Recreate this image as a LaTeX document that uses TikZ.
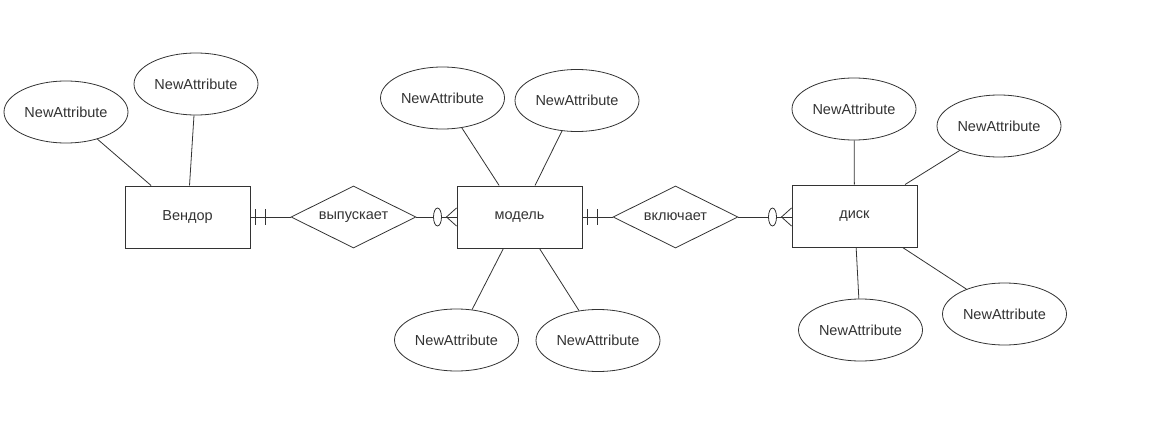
\documentclass[tikz,border=0pt]{standalone}
\usepackage{fontspec}
\setmainfont{Liberation Sans}
\usetikzlibrary{shapes.geometric,calc}
\definecolor{ln}{HTML}{333333}
\definecolor{tx}{HTML}{333333}
\tikzset{
  every node/.style={font=\fontsize{14.5}{17}\selectfont, text=tx},
  ent/.style={draw=ln, line width=1pt, rectangle, minimum width=125pt, minimum height=62pt, inner sep=0pt, fill=white},
  attr/.style={draw=ln, line width=0.8pt, ellipse, minimum width=124pt, minimum height=62pt, inner sep=0pt, fill=white},
  rel/.style={draw=ln, line width=0.8pt, diamond, shape aspect=2, minimum width=125pt, minimum height=62pt, inner sep=0pt, fill=white},
  conn/.style={draw=ln, line width=0.8pt},
}
\begin{document}
\begin{tikzpicture}[x=1pt,y=-1pt]
\useasboundingbox (0,0) rectangle (1163,428);
% entities
\node[ent] (ven) at (187.5,217) {Вендор};
\node[ent] (mod) at (519.5,217) {модель};
\node[ent] (disk) at (854.5,216) {диск};
% relationships
\node[rel] (vyp) at (353.5,217) {выпускает};
\node[rel] (vkl) at (675.5,217) {включает};
% attributes
\node[attr] (a1) at (66,112) {NewAttribute};
\node[attr] (a2) at (196,84) {NewAttribute};
\node[attr] (m1) at (442.5,98) {NewAttribute};
\node[attr] (m2) at (577,100.5) {NewAttribute};
\node[attr] (m3) at (456.5,340) {NewAttribute};
\node[attr] (m4) at (598,340.5) {NewAttribute};
\node[attr] (d1) at (854,109) {NewAttribute};
\node[attr] (d2) at (999,126) {NewAttribute};
\node[attr] (d3) at (860.5,330) {NewAttribute};
\node[attr] (d4) at (1004.5,314) {NewAttribute};
% attribute connectors
\begin{scope}[on background layer/.style={}]
\end{scope}
\draw[conn] (a1) -- (ven);
\draw[conn] (a2) -- (ven);
\draw[conn] (m1) -- (mod);
\draw[conn] (m2) -- (mod);
\draw[conn] (m3) -- (mod);
\draw[conn] (m4) -- (mod);
\draw[conn] (d1) -- (disk);
\draw[conn] (d2) -- (disk);
\draw[conn] (d3) -- (disk);
\draw[conn] (d4) -- (disk);
% relationship connectors
\draw[conn] (ven.east) -- (vyp.west);
\draw[conn] ($(ven.east)+(5,-8)$) -- ++(0,16);
\draw[conn] ($(ven.east)+(15,-8)$) -- ++(0,16);
\draw[conn] (vyp.east) -- (mod.west);
\draw[conn, fill=white] ($(mod.west)+(-19,0)$) ellipse [x radius=4, y radius=9];
\draw[conn] ($(mod.west)+(0,-9)$) -- ($(mod.west)+(-10,0)$) -- ($(mod.west)+(0,9)$);
\draw[conn] (mod.east) -- (vkl.west);
\draw[conn] ($(mod.east)+(5,-8)$) -- ++(0,16);
\draw[conn] ($(mod.east)+(15,-8)$) -- ++(0,16);
\draw[conn] (vkl.east) -- (disk.west |- vkl.east);
\coordinate (dw) at (disk.west |- vkl.east);
\draw[conn, fill=white] ($(dw)+(-19,0)$) ellipse [x radius=4, y radius=9];
\draw[conn] ($(dw)+(0,-9)$) -- ($(dw)+(-10,0)$) -- ($(dw)+(0,9)$);
\end{tikzpicture}
\end{document}
